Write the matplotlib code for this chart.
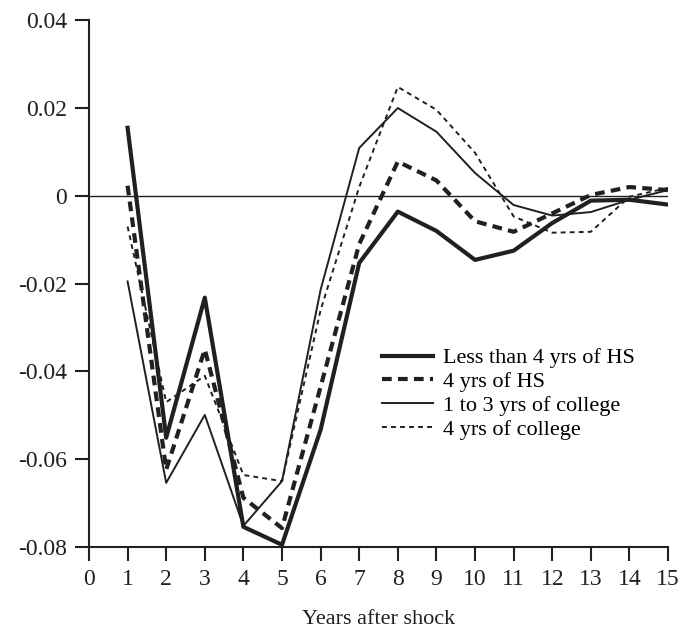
import numpy as np
import matplotlib
matplotlib.use("Agg")
import matplotlib.pyplot as plt

plt.rcParams['font.family'] = ['Liberation Serif', 'DejaVu Serif']
plt.rcParams['font.size'] = 17
plt.rcParams['lines.scale_dashes'] = False

years = [1, 2, 3, 4, 5, 6, 7, 8, 9, 10, 11, 12, 13, 14, 15]

# responses
less_hs = [0.0155, -0.0551, -0.0232, -0.0754, -0.0795, -0.0533, -0.0153, -0.0036,
           -0.0080, -0.0146, -0.0125, -0.0062, -0.0011, -0.0009, -0.0020]
hs4 = [0.0023, -0.0624, -0.0350, -0.0688, -0.0757, -0.0435, -0.0110, 0.0078,
       0.0035, -0.0058, -0.0082, -0.0040, 0.0002, 0.0020, 0.0013]
college13 = [-0.0195, -0.0654, -0.0499, -0.0752, -0.0650, -0.0214, 0.0109, 0.0200,
             0.0146, 0.0052, -0.0021, -0.0045, -0.0037, -0.0009, 0.0013]
college4 = [-0.0070, -0.0470, -0.0410, -0.0636, -0.0650, -0.0260, 0.0020, 0.0248,
            0.0196, 0.0098, -0.0047, -0.0084, -0.0082, -0.0002, 0.0018]

labels = ['Less than 4 yrs of HS', '4 yrs of HS', '1 to 3 yrs of college', '4 yrs of college']

fig = plt.figure(figsize=(6.93, 6.32), dpi=100)
ax = fig.add_axes([0.1284, 0.1345, 0.8356, 0.8335])

ax.axhline(0, color='#231f20', lw=1.0, zorder=1)

c = '#231f20'
ax.plot(years, less_hs, color=c, lw=3.0, label=labels[0])
ax.plot(years, hs4, color=c, lw=3.0, dashes=(7, 4.5), label=labels[1])
ax.plot(years, college13, color=c, lw=1.4, label=labels[2])
ax.plot(years, college4, color=c, lw=1.4, dashes=(3.5, 3), label=labels[3])

ax.set_xlim(0, 15)
ax.set_ylim(-0.08, 0.04)
ax.set_xticks(range(0, 16))
ax.set_yticks([-0.08, -0.06, -0.04, -0.02, 0, 0.02, 0.04])
ax.set_yticklabels(['-0.08', '-0.06', '-0.04', '-0.02', '0', '0.02', '0.04'])

for s in ['top', 'right']:
    ax.spines[s].set_visible(False)
for s in ['left', 'bottom']:
    ax.spines[s].set_linewidth(1.5)
    ax.spines[s].set_color(c)
ax.tick_params(axis='both', direction='out', length=10, width=1.5, color=c, labelcolor=c)
ax.tick_params(axis='x', pad=6)
ax.tick_params(axis='y', pad=6)

ax.set_xlabel('Years after shock', labelpad=14, color=c, fontsize=16)

ax.legend(loc='upper left', bbox_to_anchor=(0.49, 0.395), frameon=False,
          handlelength=2.3, handletextpad=0.45, labelspacing=0.15,
          borderaxespad=0, fontsize=16)

fig.savefig('out.png', dpi=100)
